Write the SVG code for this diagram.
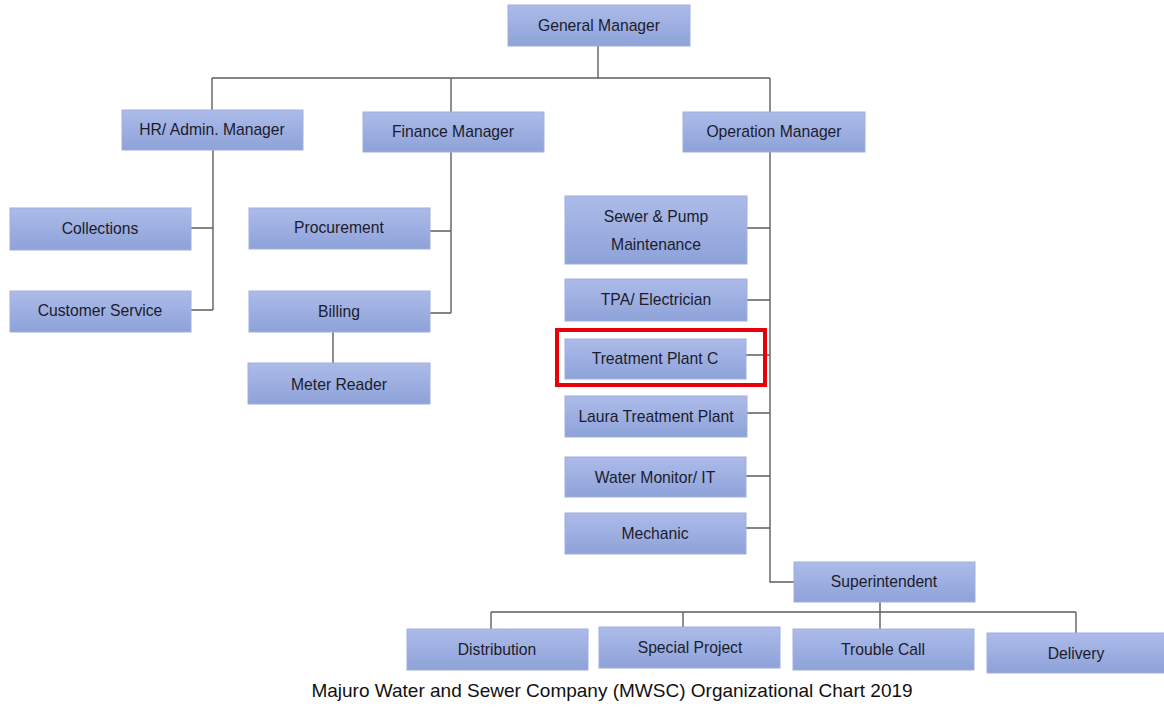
<svg xmlns="http://www.w3.org/2000/svg" width="1164" height="710" viewBox="0 0 1164 710">
<defs>
<linearGradient id="g" x1="0" y1="0" x2="0" y2="1">
<stop offset="0" stop-color="#acbbe9"/>
<stop offset="1" stop-color="#8ea2d9"/>
</linearGradient>
</defs>
<style>
.box{fill:url(#g);stroke:#9fb0dc;stroke-width:1}
.t{font-family:"Liberation Sans",Arial,sans-serif;font-size:15.7px;fill:#1c1c2c;text-anchor:middle}
.c{fill:none;stroke:#5e5e5e;stroke-width:1.4}
.cap{font-family:"Liberation Sans",Arial,sans-serif;font-size:19px;fill:#111;text-anchor:middle}
</style>
<rect width="1164" height="710" fill="#ffffff"/>
<g id="connectors">
<path class="c" d="M598,46V78M212,78H770M212,78V110M451,78V112M770,78V112"/>
<path class="c" d="M213,150V310M191,228H213M191,310H213"/>
<path class="c" d="M451,152V313M430,231H451M430,313H451M333,332V363"/>
<path class="c" d="M770,152V582H794M747,228H770M747,300H770M746,355H770M747,413H770M746,476H770M746,528H770"/>
<path class="c" d="M880,602V612M491,612H1076M491,612V629M683,612V627M880,612V629M1076,612V633"/>
</g>
<g id="general-manager"><rect class="box" x="508" y="5" width="182" height="41"/><text class="t" x="599" y="31">General Manager</text></g>
<g id="hr-admin-manager"><rect class="box" x="122" y="110" width="181" height="40"/><text class="t" x="212" y="135">HR/ Admin. Manager</text></g>
<g id="finance-manager"><rect class="box" x="363" y="112" width="181" height="40"/><text class="t" x="453" y="137">Finance Manager</text></g>
<g id="operation-manager"><rect class="box" x="683" y="112" width="182" height="40"/><text class="t" x="774" y="137">Operation Manager</text></g>
<g id="collections"><rect class="box" x="10" y="208" width="181" height="42"/><text class="t" x="100" y="234">Collections</text></g>
<g id="customer-service"><rect class="box" x="10" y="291" width="181" height="41"/><text class="t" x="100" y="316">Customer Service</text></g>
<g id="procurement"><rect class="box" x="249" y="208" width="181" height="41"/><text class="t" x="339" y="233">Procurement</text></g>
<g id="billing"><rect class="box" x="249" y="291" width="181" height="41"/><text class="t" x="339" y="317">Billing</text></g>
<g id="meter-reader"><rect class="box" x="248" y="363" width="182" height="41"/><text class="t" x="339" y="390">Meter Reader</text></g>
<g id="sewer-pump"><rect class="box" x="565" y="196" width="182" height="68"/><text class="t" x="656" y="222">Sewer &amp; Pump</text><text class="t" x="656" y="250">Maintenance</text></g>
<g id="tpa-electrician"><rect class="box" x="565" y="279" width="182" height="42"/><text class="t" x="656" y="305">TPA/ Electrician</text></g>
<g id="treatment-plant-c"><rect class="box" x="565" y="339" width="181" height="40"/><text class="t" x="655" y="364">Treatment Plant C</text><rect x="557" y="330" width="208" height="55" fill="none" stroke="#e8000b" stroke-width="4"/></g>
<g id="laura-treatment-plant"><rect class="box" x="565" y="396" width="182" height="41"/><text class="t" x="656" y="422">Laura Treatment Plant</text></g>
<g id="water-monitor-it"><rect class="box" x="565" y="457" width="181" height="40"/><text class="t" x="655" y="483">Water Monitor/ IT</text></g>
<g id="mechanic"><rect class="box" x="565" y="513" width="181" height="41"/><text class="t" x="655" y="539">Mechanic</text></g>
<g id="superintendent"><rect class="box" x="794" y="562" width="181" height="40"/><text class="t" x="884" y="587">Superintendent</text></g>
<g id="distribution"><rect class="box" x="407" y="629" width="181" height="41"/><text class="t" x="497" y="655">Distribution</text></g>
<g id="special-project"><rect class="box" x="599" y="627" width="181" height="41"/><text class="t" x="690" y="653">Special Project</text></g>
<g id="trouble-call"><rect class="box" x="793" y="629" width="181" height="41"/><text class="t" x="883" y="655">Trouble Call</text></g>
<g id="delivery"><rect class="box" x="987" y="633" width="180" height="40"/><text class="t" x="1076" y="659">Delivery</text></g>
<text class="cap" x="612" y="697">Majuro Water and Sewer Company (MWSC) Organizational Chart 2019</text>
</svg>
